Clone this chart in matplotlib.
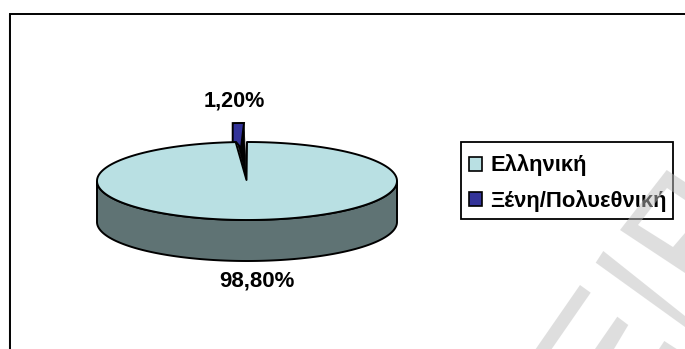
import numpy as np
import matplotlib
matplotlib.use("Agg")
import matplotlib.pyplot as plt
from matplotlib.patches import Polygon, Patch, Rectangle

categories = ["Ελληνική", "Ξένη/Πολυεθνική"]
values = [98.80, 1.20]
colors = ["#B9E0E3", "#333399"]
side_color = "#5F7374"

plt.rcParams["font.family"] = ["Liberation Sans", "DejaVu Sans"]
W, H = 685, 349
fig = plt.figure(figsize=(W / 100, H / 100), dpi=100, facecolor="white")
ax = fig.add_axes([0, 0, 1, 1])
ax.set_xlim(0, W)
ax.set_ylim(H, 0)
ax.axis("off")

cx, cy, rx, ry, depth = 247.0, 181.0, 150.0, 39.0, 41.0
LW = 1.4


def arc(a0, a1, dx=0.0, dy=0.0, n=200):
    t = np.radians(np.linspace(a0, a1, n))
    return np.column_stack([cx + dx + rx * np.cos(t), cy + dy - ry * np.sin(t)])


# chart frame (open on the right and bottom)
ax.plot([9.2, 9.2], [H, 14], color="#D8D8D8", lw=1.0, zorder=1)
ax.plot([10, 10, W], [H, 14, 14], color="black", lw=LW, solid_joinstyle="miter", zorder=2)

# slice angles come from the values
total = sum(values)
sweep_main = 360 * values[0] / total
sweep_small = 360 * values[1] / total
apex = np.array([cx - 0.5, cy - 1])

# side wall
low = arc(180, 360)
wall = np.vstack([low, low[::-1] + [0, depth]])
ax.add_patch(Polygon(wall, closed=True, fc=side_color, ec="black", lw=LW, zorder=3))

# top of the main slice
main = np.vstack([apex, arc(90, 90 - sweep_main)])
ax.add_patch(Polygon(main, closed=True, fc=colors[0], ec="black", lw=LW,
                     joinstyle="round", zorder=4))

# exploded small slice
out = arc(90, 90 + sweep_small, dx=-3.0, dy=-19.0, n=20)
right_top, left_top = out[0], out[-1]
ax.add_patch(Polygon([right_top, left_top, apex], closed=True, fc="black", ec="black",
                     lw=0.6, zorder=4.5))
blue = np.vstack([out, [left_top[0], cy - 39], [236, cy - 39], [241, cy - 33]])
ax.add_patch(Polygon(blue, closed=True, fc=colors[1], ec="black", lw=LW,
                     joinstyle="miter", zorder=4.6))

# data labels
fmt = lambda v: f"{v:.2f}".replace(".", ",") + "%"
ax.text(257, 281, fmt(values[0]), ha="center", va="center", fontsize=16,
        fontweight="bold", color="black", zorder=7)
ax.text(234, 101.5, fmt(values[1]), ha="center", va="center", fontsize=15.6,
        fontweight="bold", color="black", zorder=7)

# legend: box drawn separately so that its padding can be uneven
ax.add_patch(Rectangle((461, 142), 212, 77, fc="white", ec="black", lw=1.3, zorder=4.8))
handles = [Patch(fc=c, ec="black", lw=1.2) for c in colors]
leg = ax.legend(handles, categories, loc="upper left", bbox_to_anchor=(461, 146.5),
                bbox_transform=ax.transData, borderaxespad=0, frameon=False,
                handlelength=0.6, handleheight=0.6,
                handletextpad=0.38, labelspacing=0.62, borderpad=0.36,
                prop={"size": 15.8, "weight": "bold"})
leg.set_zorder(5)

# translucent grey watermark, over everything
marks = [
    [(620, 230), (666.7, 170), (685, 182), (685, 200), (667, 188), (638, 225),
     (673, 247), (685, 233), (685, 273)],
    [(603.3, 251), (595.7, 262.7), (685, 327), (685, 316)],
    [(580, 285), (590.7, 292.7), (551.7, 349), (535.7, 349)],
    [(617.3, 316.7), (628.3, 325), (614, 349), (595, 349)],
    [(664.3, 341), (676.7, 349), (659, 349)],
]
for m in marks:
    fig.add_artist(Polygon(m, closed=True, fc="#BFBFBF", ec="none", alpha=0.5,
                           transform=ax.transData, zorder=10))

fig.savefig("out.png", dpi=100, facecolor="white")
